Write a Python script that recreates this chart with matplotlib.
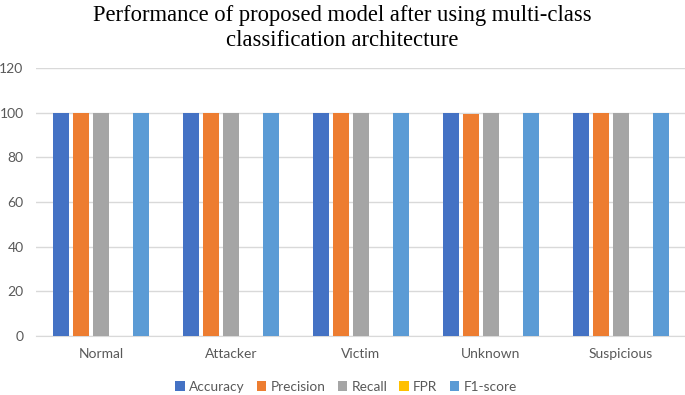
import matplotlib
matplotlib.use("Agg")
import matplotlib.pyplot as plt
import numpy as np

categories = ["Normal", "Attacker", "Victim", "Unknown", "Suspicious"]
series_names = ["Accuracy", "Precision", "Recall", "FPR", "F1-score"]
accuracy = [100, 100, 100, 100, 100]
precision = [100, 100, 100, 99.6, 100]
recall = [100, 100, 100, 100, 100]
fpr = [0, 0, 0, 0, 0]
f1_score = [100, 100, 100, 100, 100]
yticks = [0, 20, 40, 60, 80, 100, 120]

colors = ["#4472C4", "#ED7D31", "#A5A5A5", "#FFC000", "#5B9BD5"]
series = [accuracy, precision, recall, fpr, f1_score]

fig = plt.figure(figsize=(6.85, 3.95), dpi=100)
ax = fig.add_axes([36/685, 1-336/395, 650/685, (336-68)/395])

x = np.arange(len(categories))
bw = 16/130
step = 20/130
for i, (name, vals, c) in enumerate(zip(series_names, series, colors)):
    ax.bar(x + (i-2)*step, vals, width=bw, color=c, label=name, zorder=3)

ax.set_xlim(-0.5, len(categories)-0.5)
ax.set_ylim(0, 120)
ax.set_yticks(yticks)
ax.yaxis.grid(True, color="#D9D9D9", linewidth=1, zorder=0)
for s in ["top", "right", "left"]:
    ax.spines[s].set_visible(False)
ax.spines["bottom"].set_color("#D9D9D9")
ax.tick_params(axis="both", length=0, labelsize=10, labelcolor="#595959")
ax.tick_params(axis="x", pad=9)
ax.tick_params(axis="y", pad=9)
ax.set_xticks(x)
ax.set_xticklabels(categories)
for lab in ax.get_xticklabels() + ax.get_yticklabels():
    lab.set_fontfamily("Lato")

fig.text(0.5, 1-28/395, "Performance of proposed model after using multi-class\nclassification architecture",
         ha="center", va="center", fontsize=16.3, family="Liberation Serif", linespacing=1.3)

leg = ax.legend(loc="center", bbox_to_anchor=(346/685, 1-387/395), bbox_transform=fig.transFigure,
                ncol=5, frameon=False, handlelength=0.7, handleheight=0.7, handletextpad=0.3,
                columnspacing=0.9, borderpad=0, prop={"family": "Lato", "size": 9.8})
for t in leg.get_texts():
    t.set_color("#595959")

fig.savefig("out.png", dpi=100)
